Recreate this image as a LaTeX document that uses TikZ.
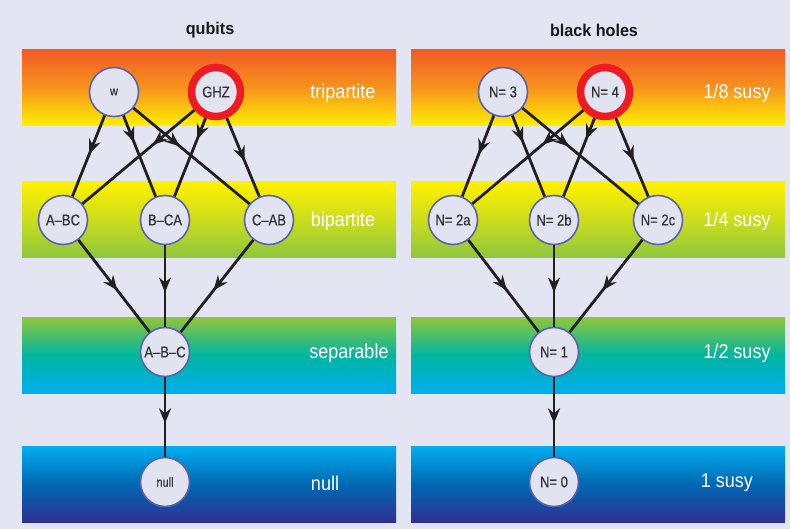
\documentclass[tikz,border=0pt]{standalone}
\usepackage{fontspec}
\setmainfont{Liberation Sans}
\newfontfamily\nodefont[FakeStretch=0.84,FakeBold=0.4]{Liberation Sans}
\newfontfamily\labfont[FakeStretch=0.9]{Liberation Sans}
\newfontfamily\titfont[FakeStretch=0.95]{Liberation Sans}
\usetikzlibrary{arrows.meta,decorations.markings}
\definecolor{bgcol}{HTML}{E3E6F2}
\definecolor{nodefill}{HTML}{E1E3F1}
\definecolor{nodeline}{HTML}{5A62AC}
\definecolor{ringred}{HTML}{ED1C24}
\definecolor{edgecol}{HTML}{231F20}
\definecolor{cRed}{HTML}{F15A24}
\definecolor{cOrange}{HTML}{F7941D}
\definecolor{cYellow}{HTML}{FFF000}
\definecolor{cGreen}{HTML}{8CC63F}
\definecolor{cTeal}{HTML}{00B5A0}
\definecolor{cCyan}{HTML}{00AEEF}
\definecolor{cBlue}{HTML}{0068B3}
\definecolor{cNavy}{HTML}{2E3192}
\tikzset{
  state/.style={circle, minimum size=49pt, inner sep=0pt, fill=nodefill, draw=nodeline,
    line width=1.6pt, text=black!80, font=\nodefont\fontsize{15.5}{16}\selectfont},
  small/.style={font=\nodefont\fontsize{13}{14}\selectfont},
  hot/.style={state, draw=ringred, line width=7.5pt, minimum size=49pt},
  flow/.style={line width=2.8pt, draw=edgecol, postaction={decorate},
    decoration={markings, mark=at position #1 with {\arrow{Stealth[length=15pt,width=12pt,inset=5pt]}}}},
  bandlab/.style={text=white, font=\labfont\fontsize{20}{22}\selectfont},
  title/.style={text=black!90, font=\titfont\bfseries\fontsize{17}{20}\selectfont},
  trip/.style={top color=cRed, bottom color=cYellow, middle color=cOrange},
  bip/.style={top color=cYellow, bottom color=cGreen, middle color=cYellow!55!cGreen},
  sep/.style={top color=cGreen, bottom color=cCyan, middle color=cTeal},
  nul/.style={top color=cCyan, bottom color=cNavy, middle color=cBlue},
}
\begin{document}
\begin{tikzpicture}[x=1pt,y=-1pt]
\fill[bgcol] (0,0) rectangle (790,529);
\useasboundingbox (0,0) rectangle (790,529);
% bands
\foreach \dx in {0,389}{
  \shade[trip] (22+\dx,50) rectangle (396+\dx,126);
  \shade[bip] (22+\dx,182) rectangle (396+\dx,258);
  \shade[sep] (22+\dx,318) rectangle (396+\dx,393);
  \shade[nul] (22+\dx,446) rectangle (396+\dx,522);
}
% titles
\node[title] (t1) at (210,30) {qubits};
\node[title] (t2) at (594,30) {black holes};
% band labels
\node[bandlab] (l1) at (343,93) {tripartite};
\node[bandlab] (l2) at (343,221) {bipartite};
\node[bandlab] (l3) at (349,353) {separable};
\node[bandlab] (l4) at (325,483) {null};
\node[bandlab] (r1) at (737,93) {1/8 susy};
\node[bandlab] (r2) at (737,221) {1/4 susy};
\node[bandlab] (r3) at (737,353) {1/2 susy};
\node[bandlab] (r4) at (727,483) {1 susy};
% qubits nodes
\node[state,small] (w) at (114,92) {w};
\node[hot] (ghz) at (216,92) {GHZ};
\node[state] (abc1) at (63,220) {A–BC};
\node[state] (bca) at (165,220) {B–CA};
\node[state] (cab) at (269,220) {C–AB};
\node[state] (abc) at (165,352) {A–B–C};
\node[state,small] (null) at (165,482) {null};
% black hole nodes
\node[state] (n3) at (503,92) {N= 3};
\node[hot] (n4) at (605,92) {N= 4};
\node[state] (n2a) at (453,220) {N= 2a};
\node[state] (n2b) at (554,220) {N= 2b};
\node[state] (n2c) at (658,220) {N= 2c};
\node[state] (n1) at (554,352) {N= 1};
\node[state] (n0) at (554,482) {N= 0};
% qubit edges
\draw[flow=0.48] (w) -- (abc1);
\draw[flow=0.33] (w) -- (bca);
\draw[flow=0.40] (w) -- (cab);
\draw[flow=0.37] (ghz) -- (abc1);
\draw[flow=0.27] (ghz) -- (bca);
\draw[flow=0.55] (ghz) -- (cab);
\draw[flow=0.55] (abc1) -- (abc);
\draw[flow=0.58] (bca) -- (abc);
\draw[flow=0.55] (cab) -- (abc);
\draw[flow=0.58] (abc) -- (null);
% black hole edges
\draw[flow=0.48] (n3) -- (n2a);
\draw[flow=0.33] (n3) -- (n2b);
\draw[flow=0.40] (n3) -- (n2c);
\draw[flow=0.37] (n4) -- (n2a);
\draw[flow=0.27] (n4) -- (n2b);
\draw[flow=0.55] (n4) -- (n2c);
\draw[flow=0.55] (n2a) -- (n1);
\draw[flow=0.58] (n2b) -- (n1);
\draw[flow=0.55] (n2c) -- (n1);
\draw[flow=0.58] (n1) -- (n0);
\end{tikzpicture}
\end{document}
